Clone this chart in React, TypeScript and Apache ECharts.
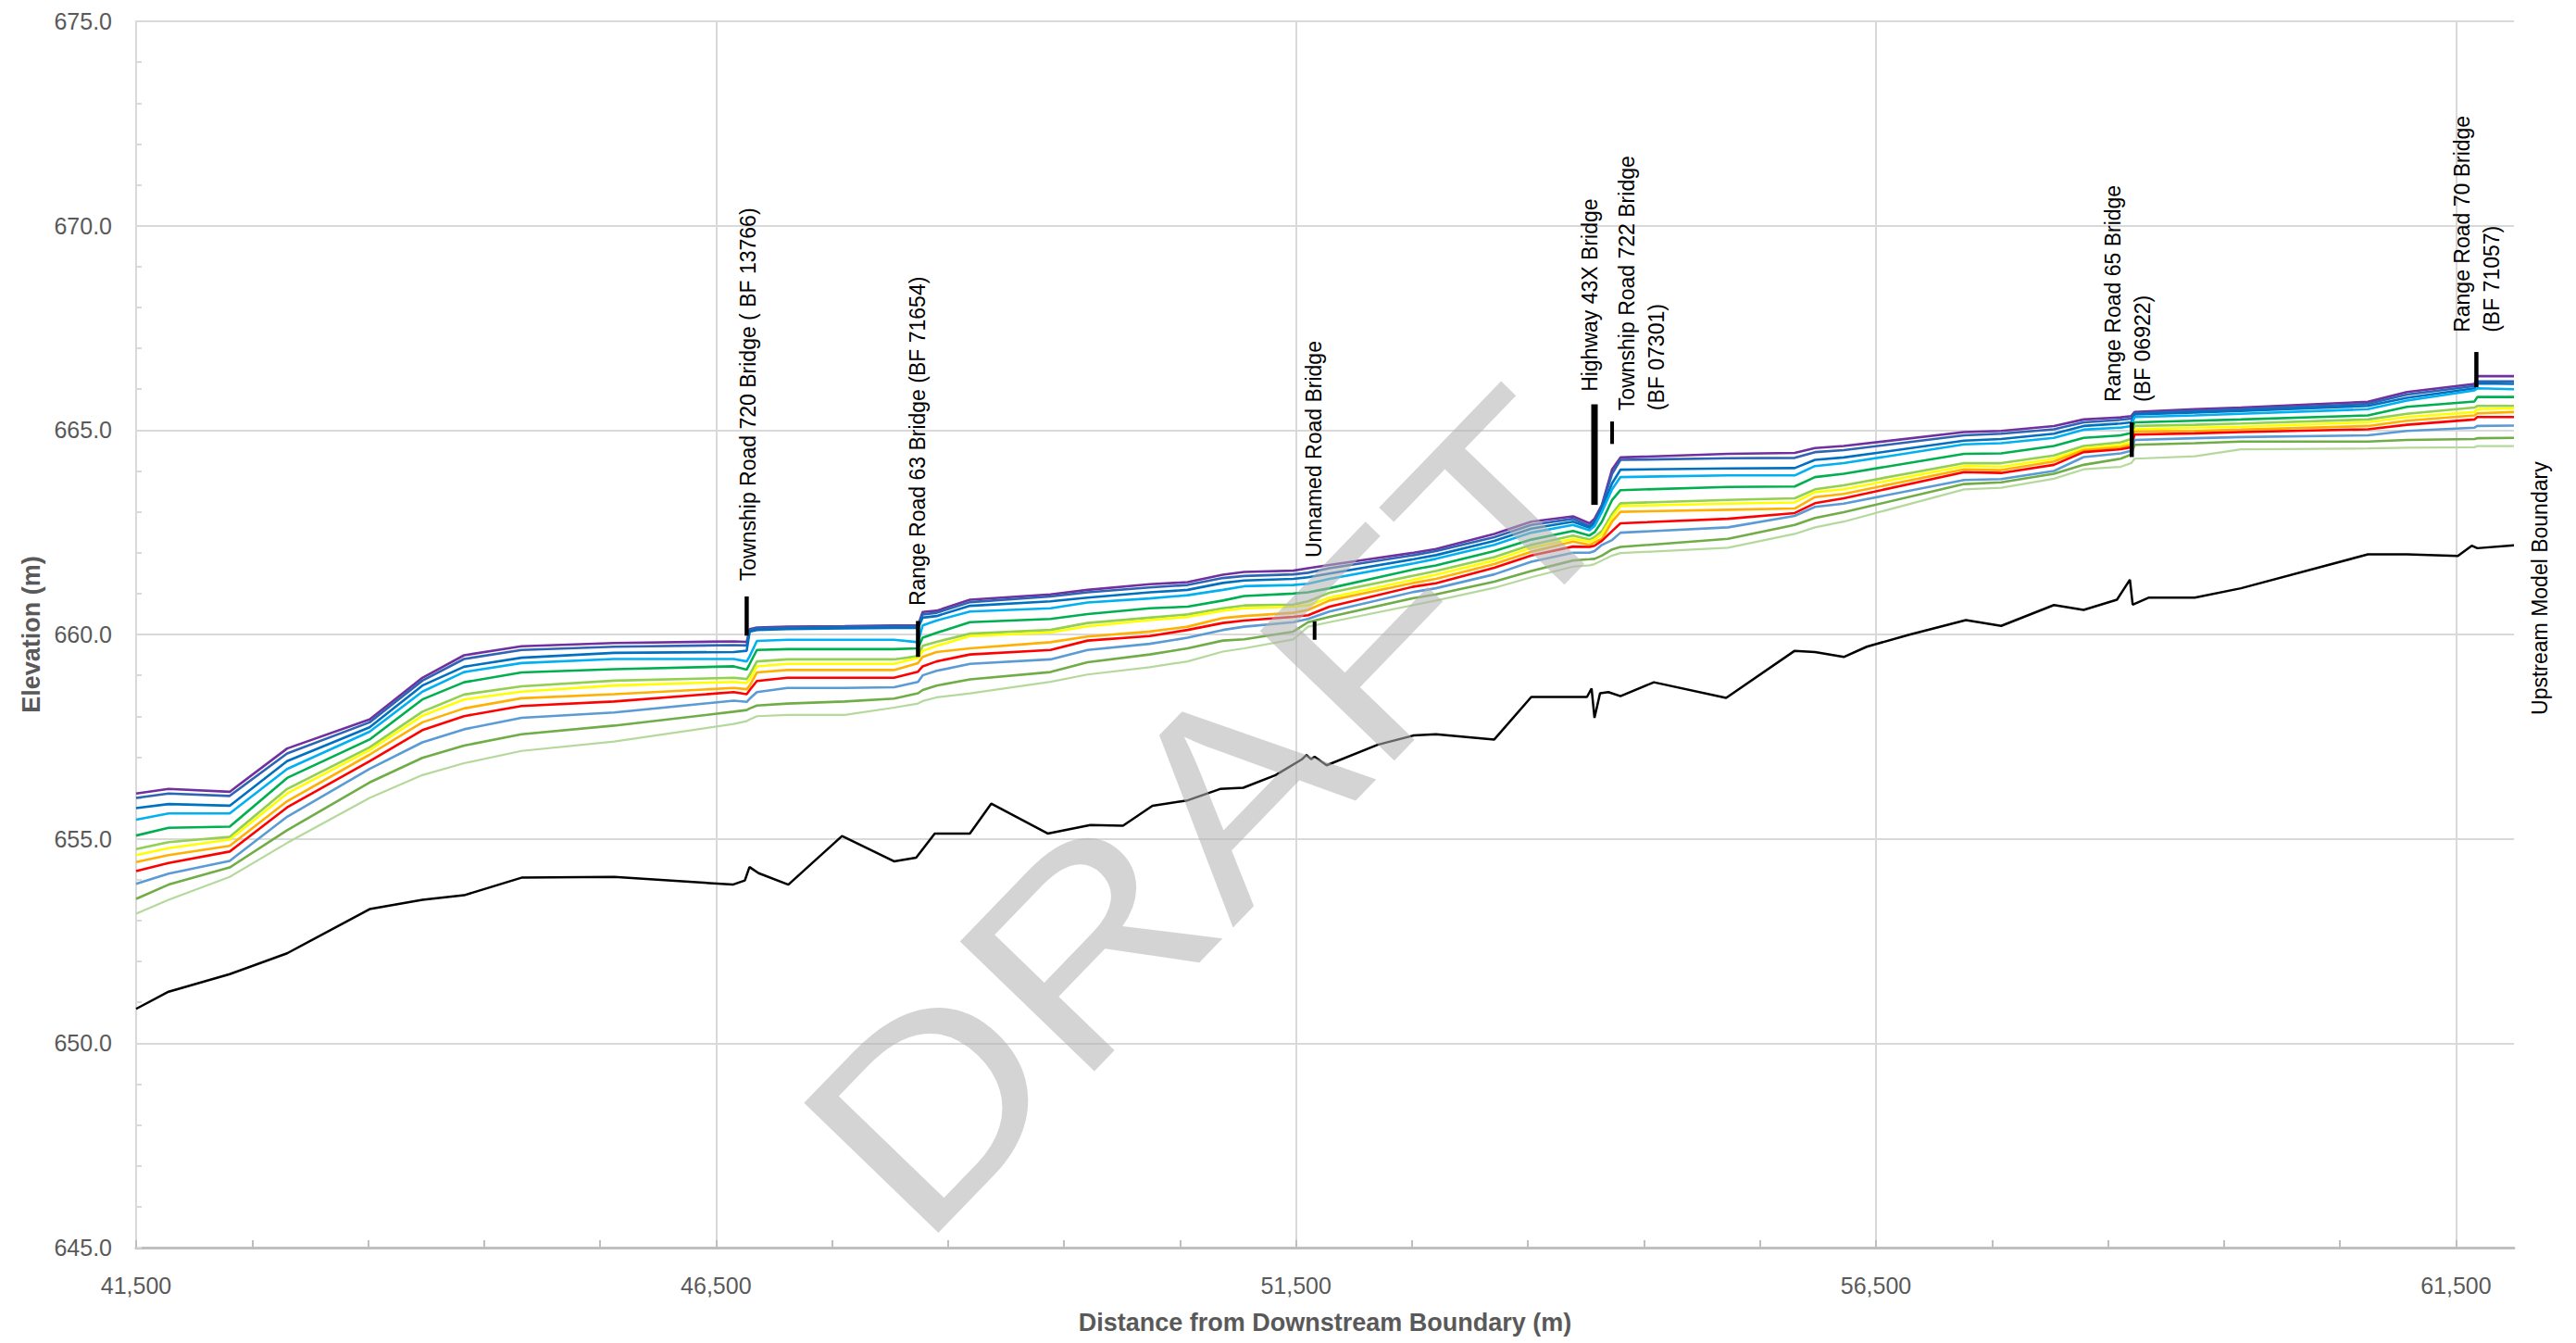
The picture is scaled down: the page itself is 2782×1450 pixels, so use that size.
import React, { useEffect, useRef } from "react";
import * as echarts from "echarts";

// Cross-section stations (m from downstream boundary) shared by the water-surface profiles
const stations = [
  41500, 41780, 42307, 42802, 43513, 43968, 44327, 44823, 45621, 46652,
  46764, 46790, 46852, 47115, 47610, 48034, 48241, 48281, 48401, 48689,
  49383, 49703, 50238, 50565, 50869, 51053, 51476, 51604, 51788, 52514,
  52706, 53209, 53528, 53888, 54030, 54073, 54137, 54225, 54297, 55224,
  55799, 55974, 56222, 57260, 57579, 58034, 58290, 58609, 58700, 58729,
  59248, 59647, 60741, 61077, 61660, 61684, 62000,
];

// Water-surface elevations (m), highest flow first
const profilePurple = [
  656.11, 656.22, 656.15, 657.21, 657.92, 658.94, 659.49, 659.71, 659.79, 659.83,
  659.82, 660.13, 660.17, 660.19, 660.2, 660.22, 660.22, 660.55, 660.58, 660.85,
  660.98, 661.09, 661.23, 661.28, 661.46, 661.53, 661.56, 661.62, 661.7, 662.0,
  662.09, 662.46, 662.76, 662.89, 662.72, 662.83, 663.17, 664.04, 664.33, 664.42,
  664.44, 664.56, 664.61, 664.95, 664.98, 665.1, 665.26, 665.31, 665.34, 665.44,
  665.51, 665.55, 665.69, 665.93, 666.13, 666.32, 666.32,
];
const profileNavy = [
  656.0, 656.11, 656.05, 657.09, 657.85, 658.87, 659.4, 659.62, 659.7, 659.74,
  659.73, 660.11, 660.15, 660.17, 660.19, 660.2, 660.2, 660.49, 660.53, 660.79,
  660.93, 661.03, 661.15, 661.21, 661.38, 661.43, 661.47, 661.51, 661.62, 661.94,
  662.04, 662.38, 662.68, 662.83, 662.65, 662.77, 663.14, 663.93, 664.27, 664.31,
  664.32, 664.46, 664.51, 664.87, 664.91, 665.02, 665.19, 665.25, 665.28, 665.41,
  665.47, 665.51, 665.64, 665.87, 666.08, 666.19, 666.19,
];
const profileBlue = [
  655.75, 655.85, 655.81, 656.9, 657.73, 658.75, 659.21, 659.43, 659.55, 659.57,
  659.6, 660.07, 660.11, 660.13, 660.15, 660.16, 660.16, 660.41, 660.45, 660.7,
  660.81, 660.9, 661.03, 661.09, 661.26, 661.32, 661.36, 661.4, 661.49, 661.84,
  661.94, 662.29, 662.59, 662.76, 662.61, 662.72, 663.08, 663.7, 664.03, 664.06,
  664.07, 664.27, 664.33, 664.74, 664.78, 664.91, 665.1, 665.16, 665.19, 665.38,
  665.43, 665.47, 665.59, 665.79, 666.02, 666.14, 666.13,
];
const profileSky = [
  655.47, 655.62, 655.62, 656.71, 657.62, 658.6, 659.08, 659.3, 659.4, 659.4,
  659.34, 659.47, 659.84, 659.87, 659.87, 659.87, 659.81, 660.22, 660.34, 660.56,
  660.64, 660.78, 660.88, 660.96, 661.09, 661.18, 661.21, 661.24, 661.36, 661.74,
  661.85, 662.19, 662.49, 662.68, 662.55, 662.65, 663.0, 663.55, 663.85, 663.89,
  663.89, 664.12, 664.19, 664.65, 664.68, 664.81, 665.01, 665.06, 665.1, 665.32,
  665.36, 665.4, 665.51, 665.72, 665.97, 666.02, 666.0,
];
const profileGreen = [
  655.08, 655.27, 655.3, 656.49, 657.43, 658.41, 658.83, 659.07, 659.15, 659.22,
  659.14, 659.28, 659.62, 659.64, 659.64, 659.64, 659.66, 659.92, 660.04, 660.3,
  660.38, 660.5, 660.64, 660.68, 660.83, 660.94, 661.0, 661.03, 661.13, 661.59,
  661.69, 662.04, 662.32, 662.53, 662.42, 662.5, 662.76, 663.29, 663.53, 663.61,
  663.62, 663.85, 663.93, 664.42, 664.43, 664.61, 664.81, 664.87, 664.93, 665.19,
  665.23, 665.26, 665.36, 665.57, 665.7, 665.81, 665.81,
];
const profileLime = [
  654.75, 654.92, 655.05, 656.22, 657.24, 658.11, 658.53, 658.73, 658.87, 658.94,
  658.91, 659.02, 659.34, 659.39, 659.39, 659.39, 659.47, 659.72, 659.82, 660.02,
  660.11, 660.28, 660.41, 660.49, 660.64, 660.71, 660.73, 660.81, 661.02, 661.44,
  661.55, 661.89, 662.19, 662.42, 662.32, 662.38, 662.53, 662.95, 663.21, 663.29,
  663.33, 663.55, 663.65, 664.19, 664.19, 664.38, 664.61, 664.7, 664.78, 665.1,
  665.13, 665.16, 665.26, 665.4, 665.55, 665.59, 665.59,
];
const profileYellow = [
  654.6, 654.77, 654.98, 656.11, 657.17, 658.01, 658.41, 658.6, 658.75, 658.84,
  658.81, 658.9, 659.22, 659.28, 659.28, 659.28, 659.43, 659.6, 659.72, 659.96,
  660.05, 660.2, 660.35, 660.43, 660.58, 660.64, 660.68, 660.71, 660.9, 661.34,
  661.46, 661.81, 662.12, 662.34, 662.27, 662.32, 662.46, 662.87, 663.14, 663.2,
  663.23, 663.48, 663.55, 664.12, 664.1, 664.3, 664.55, 664.64, 664.7, 665.02,
  665.06, 665.08, 665.19, 665.32, 665.44, 665.51, 665.53,
];
const profileOrange = [
  654.43, 654.6, 654.83, 655.92, 657.06, 657.85, 658.19, 658.44, 658.54, 658.69,
  658.66, 658.75, 659.07, 659.13, 659.13, 659.13, 659.3, 659.45, 659.57, 659.66,
  659.81, 659.95, 660.07, 660.19, 660.4, 660.45, 660.53, 660.6, 660.83, 661.26,
  661.36, 661.72, 662.02, 662.27, 662.19, 662.25, 662.34, 662.76, 663.0, 663.05,
  663.08, 663.36, 663.44, 664.04, 664.02, 664.23, 664.51, 664.58, 664.64, 664.96,
  664.98, 665.01, 665.1, 665.23, 665.36, 665.41, 665.44,
];
const profileRed = [
  654.21, 654.41, 654.69, 655.77, 656.9, 657.66, 658.0, 658.25, 658.36, 658.59,
  658.54, 658.64, 658.86, 658.94, 658.94, 658.94, 659.09, 659.22, 659.34, 659.51,
  659.62, 659.85, 659.96, 660.11, 660.28, 660.34, 660.43, 660.47, 660.68, 661.17,
  661.25, 661.63, 661.93, 662.15, 662.14, 662.17, 662.29, 662.53, 662.72, 662.83,
  662.97, 663.21, 663.33, 663.97, 663.95, 664.15, 664.46, 664.53, 664.58, 664.89,
  664.92, 664.95, 665.02, 665.13, 665.26, 665.32, 665.32,
];
const profileCornflower = [
  653.9, 654.15, 654.46, 655.54, 656.71, 657.36, 657.68, 657.96, 658.09, 658.38,
  658.35, 658.43, 658.59, 658.69, 658.69, 658.71, 658.84, 659.0, 659.11, 659.28,
  659.39, 659.62, 659.77, 659.92, 660.11, 660.19, 660.3, 660.38, 660.56, 661.04,
  661.13, 661.47, 661.78, 662.0, 662.0, 662.04, 662.19, 662.31, 662.49, 662.62,
  662.9, 663.12, 663.2, 663.78, 663.8, 664.0, 664.34, 664.43, 664.49, 664.76,
  664.8, 664.83, 664.87, 664.98, 665.06, 665.1, 665.11,
];
const profileOlive = [
  653.53, 653.88, 654.3, 655.21, 656.38, 656.98, 657.28, 657.56, 657.77, 658.11,
  658.15, 658.19, 658.26, 658.31, 658.36, 658.43, 658.56, 658.64, 658.75, 658.9,
  659.08, 659.32, 659.51, 659.66, 659.85, 659.88, 660.07, 660.3, 660.43, 660.89,
  660.98, 661.29, 661.55, 661.81, 661.84, 661.85, 661.93, 662.08, 662.14, 662.34,
  662.68, 662.85, 662.99, 663.68, 663.72, 663.93, 664.15, 664.3, 664.4, 664.64,
  664.68, 664.72, 664.72, 664.76, 664.78, 664.8, 664.81,
];
const profilePale = [
  653.17, 653.51, 654.07, 654.9, 656.0, 656.56, 656.85, 657.15, 657.38, 657.81,
  657.88, 657.92, 658.0, 658.03, 658.03, 658.21, 658.31, 658.37, 658.46, 658.56,
  658.84, 659.02, 659.2, 659.34, 659.58, 659.66, 659.88, 660.19, 660.3, 660.72,
  660.83, 661.14, 661.4, 661.66, 661.69, 661.72, 661.81, 661.93, 661.99, 662.12,
  662.46, 662.62, 662.76, 663.55, 663.59, 663.81, 664.04, 664.1, 664.19, 664.3,
  664.36, 664.53, 664.55, 664.57, 664.58, 664.61, 664.61,
];

// Channel bed (thalweg) profile
const bedStations = [
  41500, 41780, 42307, 42802, 43513, 43968, 44327, 44823, 45621, 46644,
  46748, 46788, 46867, 47123, 47586, 48034, 48225, 48385, 48688, 48872,
  49359, 49727, 50008, 50262, 50565, 50845, 51045, 51324, 51548, 51590,
  51630, 51660, 51764, 52203, 52514, 52706, 53209, 53528, 54008, 54048,
  54073, 54121, 54193, 54297, 54585, 55208, 55799, 55974, 56222, 56420,
  56780, 57275, 57579, 58034, 58290, 58577, 58689, 58713, 58849, 59248,
  59647, 60741, 61077, 61516, 61636, 61684, 62000,
];
const bedElevations = [
  650.84, 651.26, 651.69, 652.2, 653.28, 653.51, 653.62, 654.05, 654.07, 653.88,
  653.98, 654.31, 654.16, 653.88, 655.07, 654.45, 654.54, 655.13, 655.13, 655.86,
  655.13, 655.34, 655.32, 655.81, 655.94, 656.22, 656.25, 656.56, 656.94, 657.05,
  656.95, 657.01, 656.8, 657.3, 657.53, 657.56, 657.43, 658.47, 658.47, 658.68,
  657.96, 658.56, 658.59, 658.49, 658.83, 658.45, 659.6, 659.57, 659.45, 659.7,
  659.99, 660.35, 660.21, 660.72, 660.6, 660.85, 661.34, 660.73, 660.9, 660.9,
  661.13, 661.96, 661.96, 661.92, 662.17, 662.11, 662.18,
];

// Bridge decks: station, low chord, high chord
const bridgeStations = [46764, 48241, 51660, 54073, 54225, 58705, 61676];
const bridgeLow = [659.97, 659.45, 659.87, 663.17, 664.66, 664.34, 666.05];
const bridgeHigh = [660.93, 660.33, 660.32, 665.63, 665.21, 665.19, 666.91];
const bridgeNames = [
  "Township Road 720 Bridge ( BF 13766)",
  "Range Road 63 Bridge (BF 71654)",
  "Unnamed Road Bridge",
  "Highway 43X Bridge",
  "Township Road 722 Bridge\n(BF 07301)",
  "Range Road 65 Bridge\n(BF 06922)",
  "Range Road 70 Bridge\n(BF 71057)",
];
const boundaryName = "Upstream Model Boundary";

// Axis ticks
const xLabelTicks = [41500, 46500, 51500, 56500, 61500];
const xMinorStep = 1000;

export default function App() {
  const ref = useRef<HTMLDivElement>(null);

  useEffect(() => {
    document.body.style.margin = "0";
    const el = ref.current!;
    const chart = echarts.init(el, null, { renderer: "svg", width: 2782, height: 1450 });

    const FONT = "Liberation Sans";
    const GRID = "#d9d9d9";
    const AXIS_TEXT = "#595959";

    const profiles = [
      { name: "Profile 12", values: profilePurple, color: "#7030a0" },
      { name: "Profile 11", values: profileNavy, color: "#2e64b4" },
      { name: "Profile 10", values: profileBlue, color: "#0070c0" },
      { name: "Profile 9", values: profileSky, color: "#00b0f0" },
      { name: "Profile 8", values: profileGreen, color: "#00b050" },
      { name: "Profile 7", values: profileLime, color: "#92d050" },
      { name: "Profile 6", values: profileYellow, color: "#ffff00" },
      { name: "Profile 5", values: profileOrange, color: "#ffb000" },
      { name: "Profile 4", values: profileRed, color: "#ff0000" },
      { name: "Profile 3", values: profileCornflower, color: "#5b9bd5" },
      { name: "Profile 2", values: profileOlive, color: "#70ad47" },
      { name: "Profile 1", values: profilePale, color: "#b5d99c" },
    ];

    const bridgeWidths = [4.5, 4.5, 4, 7, 4, 4.5, 4.5];

    const minorTicks: number[] = [];
    for (let v = xLabelTicks[0]; v <= xLabelTicks[xLabelTicks.length - 1]; v += xMinorStep) {
      minorTicks.push(v);
    }

    const series: any[] = [];
    profiles.forEach((p, i) => {
      series.push({
        type: "line",
        name: p.name,
        xAxisIndex: 0,
        data: stations.map((d, k) => [d, p.values[k]]),
        symbol: "none",
        silent: true,
        z: 2,
        lineStyle: { color: p.color, width: i === profiles.length - 1 ? 2.2 : 2.6 },
      });
    });
    series.push({
      type: "line",
      name: "Channel Bed",
      xAxisIndex: 0,
      data: bedStations.map((d, k) => [d, bedElevations[k]]),
      symbol: "none",
      silent: true,
      z: 3,
      lineStyle: { color: "#000000", width: 2.5 },
    });
    bridgeStations.forEach((d, i) => {
      series.push({
        type: "line",
        name: bridgeNames[i],
        xAxisIndex: 0,
        data: [
          [d, bridgeLow[i]],
          [d, bridgeHigh[i]],
        ],
        symbol: "none",
        silent: true,
        z: 4,
        lineStyle: { color: "#000000", width: bridgeWidths[i], cap: "butt" },
      });
    });

    chart.setOption({
      animation: false,
      backgroundColor: "#ffffff",
      grid: { left: 147, top: 23, right: 67, bottom: 103, containLabel: false, outerBoundsMode: "none" },
      xAxis: [
        {
          type: "value",
          position: "bottom",
          min: 41500,
          max: 62000,
          interval: 5000,
          axisLine: { show: true, onZero: false, lineStyle: { color: "#bfbfbf", width: 3 } },
          axisTick: { show: false },
          splitLine: {
            show: true,
            showMinLine: false,
            showMaxLine: false,
            lineStyle: { color: GRID, width: 2 },
          },
          axisLabel: {
            customValues: xLabelTicks,
            formatter: (v: number) => v.toLocaleString("en-US"),
            color: AXIS_TEXT,
            fontSize: 25,
            fontFamily: FONT,
            margin: 28,
          },
          name: "Distance from Downstream Boundary (m)",
          nameLocation: "middle",
          nameGap: 67,
          nameTextStyle: { color: AXIS_TEXT, fontSize: 27, fontWeight: "bold", fontFamily: FONT },
        },
        {
          // carries only the 1,000 m minor ticks
          type: "value",
          position: "bottom",
          min: 41500,
          max: 62000,
          interval: 5000,
          axisLine: { show: false, onZero: false },
          axisTick: {
            show: true,
            inside: true,
            length: 8,
            customValues: minorTicks,
            lineStyle: { color: "#bfbfbf", width: 2 },
          },
          splitLine: { show: false },
          axisLabel: { show: false },
        },
      ],
      yAxis: {
        type: "value",
        min: 645,
        max: 675,
        interval: 5,
        axisLine: { show: true, onZero: false, lineStyle: { color: GRID, width: 2 } },
        axisTick: { show: true, inside: true, length: 6, lineStyle: { color: GRID, width: 2 } },
        minorTick: { show: true, splitNumber: 5, length: 6, lineStyle: { color: GRID, width: 2 } },
        splitLine: { show: true, lineStyle: { color: GRID, width: 2 } },
        axisLabel: {
          formatter: (v: number) => v.toFixed(1),
          color: AXIS_TEXT,
          fontSize: 25,
          fontFamily: FONT,
          margin: 26,
        },
        name: "Elevation (m)",
        nameLocation: "middle",
        nameGap: 100,
        nameTextStyle: { color: AXIS_TEXT, fontSize: 27, fontWeight: "bold", fontFamily: FONT },
      },
      series,
    });

    // Annotation anchors (data coordinates): start of each rotated label
    const labelAnchors: [number, number][] = [
      [46780, 661.31],
      [48241, 660.7],
      [51652, 661.88],
      [54032, 665.94],
      [54479, 665.48],
      [58669, 665.69],
      [61680, 667.39],
    ];
    const boundaryAnchor: [number, number] = [62227, 658.03];

    const toPx = (p: [number, number]) =>
      chart.convertToPixel({ xAxisIndex: 0, yAxisIndex: 0 }, p) as number[];
    const labelStyle = {
      fontSize: 23,
      fontFamily: FONT,
      fill: "#000000",
      align: "left",
      verticalAlign: "middle",
      lineHeight: 32,
    };

    const graphics: any[] = bridgeNames.map((name, i) => {
      const [px, py] = toPx(labelAnchors[i]);
      return {
        type: "text",
        x: px,
        y: py,
        rotation: Math.PI / 2,
        silent: true,
        z: 50,
        style: { ...labelStyle, text: name },
      };
    });
    const [bx, by] = toPx(boundaryAnchor);
    graphics.push({
      type: "text",
      x: bx,
      y: by,
      rotation: Math.PI / 2,
      silent: true,
      z: 50,
      style: { ...labelStyle, text: boundaryName },
    });
    // Watermark across the plot
    graphics.push({
      type: "text",
      x: 1310,
      y: 878,
      rotation: (46 * Math.PI) / 180,
      scaleX: 1.19,
      scaleY: 1.04,
      silent: true,
      z: 100,
      style: {
        text: "DRAFT",
        fontSize: 282,
        fontFamily: FONT,
        fill: "#b3b3b3",
        opacity: 0.56,
        align: "center",
        verticalAlign: "middle",
      },
    });

    chart.setOption({ graphic: graphics });

    return () => {
      chart.dispose();
    };
  }, []);

  return (
    <div
      ref={ref}
      style={{ position: "absolute", left: 0, top: 0, width: 2782, height: 1450, background: "#ffffff" }}
    />
  );
}
